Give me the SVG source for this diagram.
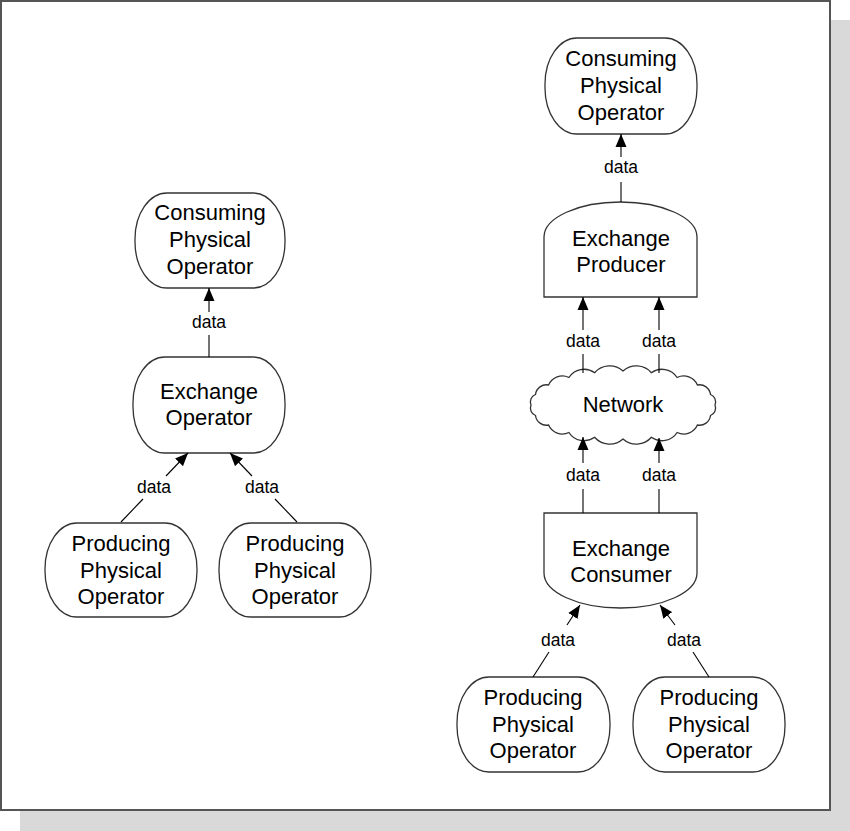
<svg xmlns="http://www.w3.org/2000/svg" width="850" height="831" viewBox="0 0 850 831">
<defs>
<style>
.n{fill:#fff;stroke:#333;stroke-width:1.3}
.t{font-family:"Liberation Sans",Arial,sans-serif;font-size:22px;fill:#000;text-anchor:middle}
.d{font-family:"Liberation Sans",Arial,sans-serif;font-size:17.5px;fill:#000;text-anchor:middle}
.c{fill:none;stroke:#000;stroke-width:1.1}
</style>
<marker id="ah" markerUnits="userSpaceOnUse" markerWidth="14" markerHeight="12" refX="13" refY="6" orient="auto" viewBox="0 0 14 12">
<path d="M0,0.5 L13,6 L0,11.5 z" fill="#000"/>
</marker>
</defs>
<rect x="20" y="20" width="830" height="811" fill="#d9d9d9"/>
<rect x="1" y="1" width="829" height="809" fill="#fff" stroke="#555" stroke-width="2"/>

<g id="left-consuming">
<rect class="n" x="135" y="193" width="150" height="95" rx="32" ry="46"/>
<text class="t" x="210" y="220">Consuming</text>
<text class="t" x="210" y="247">Physical</text>
<text class="t" x="210" y="274">Operator</text>
</g>
<g id="left-exchange">
<rect class="n" x="133" y="357" width="152" height="96" rx="32" ry="46"/>
<text class="t" x="209" y="399">Exchange</text>
<text class="t" x="209" y="425">Operator</text>
</g>
<g id="left-producing-1">
<rect class="n" x="45" y="523" width="152" height="94" rx="32" ry="46"/>
<text class="t" x="121" y="551">Producing</text>
<text class="t" x="121" y="578">Physical</text>
<text class="t" x="121" y="604">Operator</text>
</g>
<g id="left-producing-2">
<rect class="n" x="219" y="523" width="152" height="94" rx="32" ry="46"/>
<text class="t" x="295" y="551">Producing</text>
<text class="t" x="295" y="578">Physical</text>
<text class="t" x="295" y="604">Operator</text>
</g>

<g id="right-consuming">
<rect class="n" x="545" y="38" width="152" height="96" rx="32" ry="46"/>
<text class="t" x="621" y="66">Consuming</text>
<text class="t" x="621" y="93">Physical</text>
<text class="t" x="621" y="120">Operator</text>
</g>
<g id="exchange-producer">
<path class="n" d="M544,297 V237 A76.5,35 0 0 1 697,237 V297 Z"/>
<text class="t" x="621" y="246">Exchange</text>
<text class="t" x="621" y="272">Producer</text>
</g>
<g id="network">
<path class="n" d="M715,405 A8,8 0 0 1 710.5,415.5 A11,11 0 0 1 697.4,425 A15,15 0 0 1 677.1,432.5 A18,18 0 0 1 651.4,437.3 A20,20 0 0 1 623,439 A20,20 0 0 1 594.6,437.3 A18,18 0 0 1 568.9,432.5 A15,15 0 0 1 548.6,425 A11,11 0 0 1 535.5,415.5 A8,8 0 0 1 531,405 A8,8 0 0 1 535.5,394.5 A11,11 0 0 1 548.6,385 A15,15 0 0 1 568.9,377.5 A18,18 0 0 1 594.6,372.7 A20,20 0 0 1 623,371 A20,20 0 0 1 651.4,372.7 A18,18 0 0 1 677.1,377.5 A15,15 0 0 1 697.4,385 A11,11 0 0 1 710.5,394.5 A8,8 0 0 1 715,405 Z"/>
<text class="t" x="623" y="412">Network</text>
</g>
<g id="exchange-consumer">
<path class="n" d="M544,513 H697 V573 A76.5,35 0 0 1 544,573 Z"/>
<text class="t" x="621" y="556">Exchange</text>
<text class="t" x="621" y="582">Consumer</text>
</g>
<g id="right-producing-1">
<rect class="n" x="457" y="677" width="153" height="95" rx="32" ry="46"/>
<text class="t" x="533" y="705">Producing</text>
<text class="t" x="533" y="732">Physical</text>
<text class="t" x="533" y="758">Operator</text>
</g>
<g id="right-producing-2">
<rect class="n" x="633" y="677" width="152" height="95" rx="32" ry="46"/>
<text class="t" x="709" y="705">Producing</text>
<text class="t" x="709" y="732">Physical</text>
<text class="t" x="709" y="758">Operator</text>
</g>

<g id="connectors">
<line class="c" x1="209" y1="357" x2="209" y2="335"/>
<line class="c" x1="209" y1="312" x2="209" y2="288" marker-end="url(#ah)"/>
<text class="d" x="209" y="328">data</text>

<line class="c" x1="121" y1="522" x2="143" y2="499"/>
<line class="c" x1="166" y1="476" x2="188" y2="453" marker-end="url(#ah)"/>
<text class="d" x="154" y="493">data</text>
<line class="c" x1="297" y1="522" x2="275" y2="499"/>
<line class="c" x1="252" y1="476" x2="230" y2="453" marker-end="url(#ah)"/>
<text class="d" x="262" y="493">data</text>

<line class="c" x1="621" y1="202" x2="621" y2="182"/>
<line class="c" x1="621" y1="157" x2="621" y2="134" marker-end="url(#ah)"/>
<text class="d" x="621" y="173">data</text>

<line class="c" x1="583" y1="373" x2="583" y2="354"/>
<line class="c" x1="583" y1="330" x2="583" y2="297" marker-end="url(#ah)"/>
<text class="d" x="583" y="347">data</text>
<line class="c" x1="659" y1="373" x2="659" y2="354"/>
<line class="c" x1="659" y1="330" x2="659" y2="297" marker-end="url(#ah)"/>
<text class="d" x="659" y="347">data</text>

<line class="c" x1="583" y1="513" x2="583" y2="489"/>
<line class="c" x1="583" y1="463" x2="583" y2="437" marker-end="url(#ah)"/>
<text class="d" x="583" y="481">data</text>
<line class="c" x1="659" y1="513" x2="659" y2="489"/>
<line class="c" x1="659" y1="463" x2="659" y2="438" marker-end="url(#ah)"/>
<text class="d" x="659" y="481">data</text>

<line class="c" x1="533" y1="677" x2="549" y2="652"/>
<line class="c" x1="567" y1="625" x2="580" y2="605" marker-end="url(#ah)"/>
<text class="d" x="558" y="646">data</text>
<line class="c" x1="709" y1="677" x2="693" y2="652"/>
<line class="c" x1="675" y1="625" x2="660" y2="605" marker-end="url(#ah)"/>
<text class="d" x="684" y="646">data</text>
</g>
</svg>
